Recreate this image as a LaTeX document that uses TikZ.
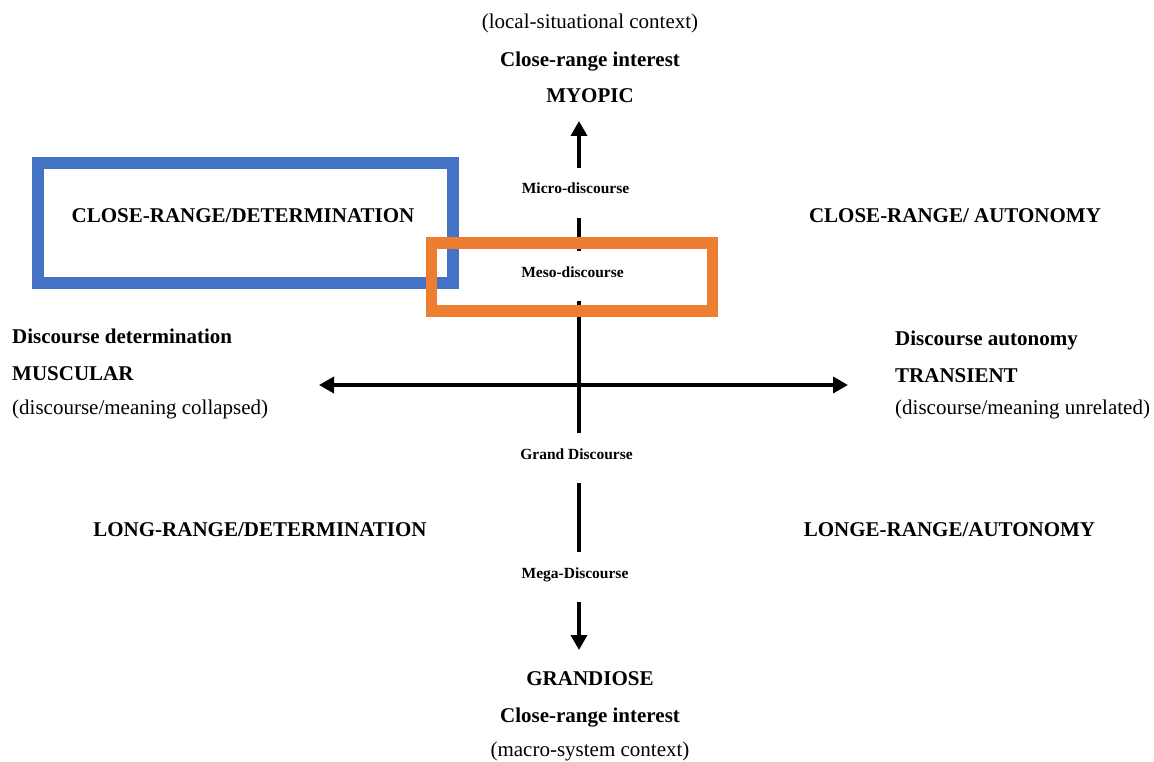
\documentclass[tikz,border=0pt]{standalone}
\usepackage{fontspec}
\setmainfont{Liberation Serif}
\usetikzlibrary{arrows.meta}

\definecolor{boxblue}{HTML}{4472C4}
\definecolor{boxorange}{HTML}{ED7D31}

\newcommand{\mainsize}{\fontsize{21}{25}\selectfont}
\newcommand{\smallsize}{\fontsize{15.5}{18}\selectfont}

\begin{document}
\begin{tikzpicture}[x=1pt, y=-1pt,
  txt/.style={inner sep=0pt, anchor=base, font=\mainsize},
  btxt/.style={txt, font=\mainsize\bfseries},
  ltxt/.style={txt, anchor=base west},
  lbtxt/.style={btxt, anchor=base west},
  level/.style={inner xsep=0pt, inner ysep=0pt, anchor=base,
    text height=26pt, text depth=24pt, font=\smallsize\bfseries},
  axis/.style={line width=3.5pt, draw=black},
  tip/.style={-{Triangle[length=15pt, width=16pt]}},
  frame/.style={line width=12pt, draw=#1}
]
\useasboundingbox (0,0) rectangle (1154,762);

% vertical axis: the discourse levels
\coordinate (vx) at (579,0);
\coordinate (vtop) at (579,121);
\coordinate (vbot) at (579,650);
\node[level] (micro) at (575.5,194) {Micro-discourse};
\node[level] (meso)  at (572.5,277) {Meso-discourse};
\node[level] (grand) at (576.5,459) {Grand Discourse};
\node[level] (mega)  at (575,578) {Mega-Discourse};

\draw[axis, tip] (micro.north -| vx) -- (vtop);
\draw[axis] (micro.south -| vx) -- (meso.north -| vx);
\draw[axis] (meso.south -| vx) -- (grand.north -| vx);
\draw[axis] (grand.south -| vx) -- (mega.north -| vx);
\draw[axis, tip] (mega.south -| vx) -- (vbot);

% horizontal axis: determination vs autonomy
\coordinate (hleft) at (319,385);
\coordinate (hright) at (848,385);
\draw[axis, {Triangle[length=15pt, width=16pt]}-{Triangle[length=15pt, width=16pt]}] (hleft) -- (hright);

% highlight frames
\draw[frame=boxblue] (37.5,163) rectangle (452.5,282.5);
\draw[frame=boxorange, line width=11.5pt] (431.7,243) rectangle (712.5,311);

% top pole
\node[txt]  (ctxtop) at (590,29)  {(local-situational context)};
\node[btxt] (inttop) at (590,67)  {Close-range interest};
\node[btxt] (myopic) at (590,103) {MYOPIC};

% bottom pole
\node[btxt] (grandiose) at (590,685) {GRANDIOSE};
\node[btxt] (intbot)    at (590,722) {Close-range interest};
\node[txt]  (ctxbot)    at (590,756) {(macro-system context)};

% left pole
\node[lbtxt] (detl) at (12,343) {Discourse determination};
\node[lbtxt] (musc) at (12,380) {MUSCULAR};
\node[ltxt]  (coll) at (12,414) {(discourse/meaning collapsed)};

% right pole
\node[lbtxt] (autr) at (895,345) {Discourse autonomy};
\node[lbtxt] (tran) at (895,382) {TRANSIENT};
\node[ltxt]  (unre) at (895,414) {(discourse/meaning unrelated)};

% quadrants
\node[btxt] (q1) at (243,223) {CLOSE-RANGE/DETERMINATION};
\node[btxt] (q2) at (955,223) {CLOSE-RANGE/ AUTONOMY};
\node[btxt] (q3) at (260,536) {LONG-RANGE/DETERMINATION};
\node[btxt] (q4) at (949.5,536) {LONGE-RANGE/AUTONOMY};
\end{tikzpicture}
\end{document}
